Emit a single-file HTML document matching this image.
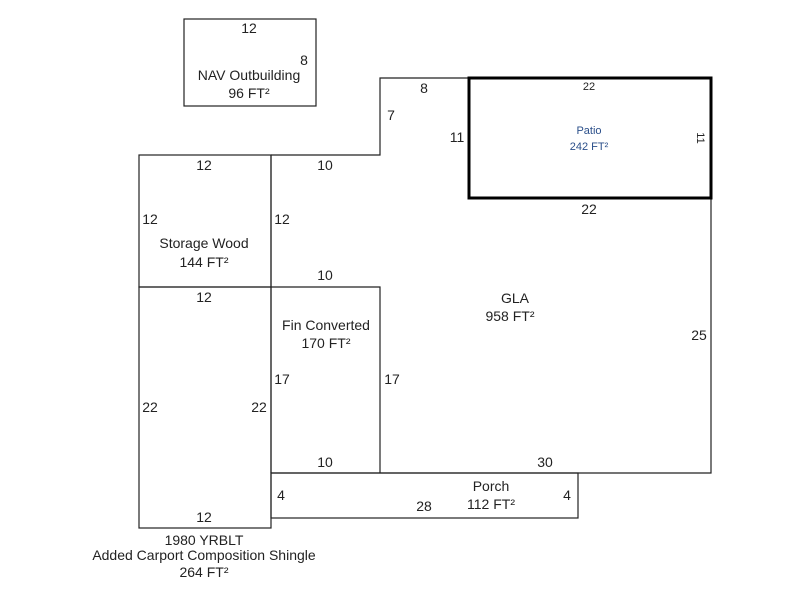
<!DOCTYPE html>
<html><head><meta charset="utf-8"><style>
html,body{margin:0;padding:0;background:#fff;}
svg{display:block;}
text{font-family:"Liberation Sans",Arial,sans-serif;font-size:14px;fill:#222;text-anchor:middle;}
</style></head><body>
<svg width="800" height="600" xmlns="http://www.w3.org/2000/svg">
<g fill="none" stroke="#222" stroke-width="1.2">
<rect x="184" y="19" width="132" height="87"/>
<polyline points="271,155 380,155 380,78 469,78"/>
<polyline points="711,198 711,473 271,473"/>
<line x1="271" y1="155" x2="271" y2="473"/>
<rect x="139" y="155" width="132" height="132"/>
<rect x="139" y="287" width="132" height="241"/>
<polyline points="271,287 380,287 380,473"/>
<rect x="271" y="473" width="307" height="45"/>
</g>
<rect x="469" y="78" width="242" height="120" fill="none" stroke="#000" stroke-width="3"/>
<text x="249" y="33">12</text>
<text x="304" y="65">8</text>
<text x="249" y="80">NAV Outbuilding</text>
<text x="249" y="98">96 FT²</text>
<text x="424" y="93">8</text>
<text x="391" y="120">7</text>
<text x="457" y="142">11</text>
<text x="589" y="90" style="font-size:11px">22</text>
<text x="589" y="134" style="font-size:11px;fill:#2b4f8a">Patio</text>
<text x="589" y="150" style="font-size:11px;fill:#2b4f8a">242 FT²</text>
<text x="0" y="0" style="font-size:11px" transform="translate(697,138) rotate(90)">11</text>
<text x="589" y="214">22</text>
<text x="204" y="170">12</text>
<text x="325" y="170">10</text>
<text x="150" y="224">12</text>
<text x="282" y="224">12</text>
<text x="204" y="248">Storage Wood</text>
<text x="204" y="267">144 FT²</text>
<text x="325" y="280">10</text>
<text x="204" y="302">12</text>
<text x="515" y="303">GLA</text>
<text x="510" y="321">958 FT²</text>
<text x="326" y="330">Fin Converted</text>
<text x="326" y="348">170 FT²</text>
<text x="699" y="340">25</text>
<text x="282" y="384">17</text>
<text x="392" y="384">17</text>
<text x="150" y="412">22</text>
<text x="259" y="412">22</text>
<text x="325" y="467">10</text>
<text x="545" y="467">30</text>
<text x="281" y="500">4</text>
<text x="491" y="491">Porch</text>
<text x="491" y="509">112 FT²</text>
<text x="567" y="500">4</text>
<text x="424" y="511">28</text>
<text x="204" y="522">12</text>
<text x="204" y="545">1980 YRBLT</text>
<text x="204" y="560">Added Carport Composition Shingle</text>
<text x="204" y="577">264 FT²</text>
</svg>
</body></html>
